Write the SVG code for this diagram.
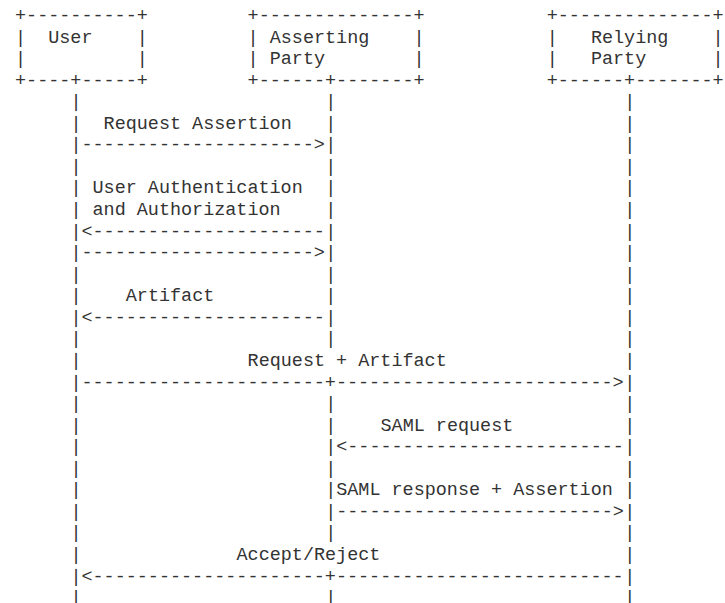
<svg xmlns="http://www.w3.org/2000/svg" width="725" height="603" viewBox="0 0 725 603">
<style>
text{font-family:"Liberation Mono","Courier New",monospace;font-size:18.46px;fill:#333;white-space:pre}
</style>
<rect width="725" height="603" fill="#fff"/>
<g id="node-user" xml:space="preserve">
<text x="15" y="21">+----------+</text>
<text x="15" y="42.56">|  User    |</text>
<text x="15" y="64.12">|          |</text>
<text x="15" y="85.68">+----+-----+</text>
</g>
<g id="node-asserting-party" xml:space="preserve">
<text x="247.6" y="21">+--------------+</text>
<text x="247.6" y="42.56">| Asserting    |</text>
<text x="247.6" y="64.12">| Party        |</text>
<text x="247.6" y="85.68">+------+-------+</text>
</g>
<g id="node-relying-party" xml:space="preserve">
<text x="546.65" y="21">+--------------+</text>
<text x="546.65" y="42.56">|   Relying    |</text>
<text x="546.65" y="64.12">|   Party      |</text>
<text x="546.65" y="85.68">+------+-------+</text>
</g>
<g id="connectors" xml:space="preserve">
<g id="lifeline-user">
<text x="70.38" y="107.24">|</text><text x="70.38" y="128.8">|</text><text x="70.38" y="150.36">|</text><text x="70.38" y="171.92">|</text>
<text x="70.38" y="193.48">|</text><text x="70.38" y="215.04">|</text><text x="70.38" y="236.6">|</text><text x="70.38" y="258.16">|</text>
<text x="70.38" y="279.72">|</text><text x="70.38" y="301.28">|</text><text x="70.38" y="322.84">|</text><text x="70.38" y="344.4">|</text>
<text x="70.38" y="365.96">|</text><text x="70.38" y="387.52">|</text><text x="70.38" y="409.08">|</text><text x="70.38" y="430.64">|</text>
<text x="70.38" y="452.2">|</text><text x="70.38" y="473.76">|</text><text x="70.38" y="495.32">|</text><text x="70.38" y="516.88">|</text>
<text x="70.38" y="538.44">|</text><text x="70.38" y="560">|</text><text x="70.38" y="581.56">|</text><text x="70.38" y="603.12">|</text>
</g>
<g id="lifeline-asserting-party">
<text x="325.13" y="107.24">|</text><text x="325.13" y="128.8">|</text><text x="325.13" y="150.36">|</text><text x="325.13" y="171.92">|</text>
<text x="325.13" y="193.48">|</text><text x="325.13" y="215.04">|</text><text x="325.13" y="236.6">|</text><text x="325.13" y="258.16">|</text>
<text x="325.13" y="279.72">|</text><text x="325.13" y="301.28">|</text><text x="325.13" y="322.84">|</text><text x="325.13" y="344.4">|</text>
<text x="325.13" y="409.08">|</text><text x="325.13" y="430.64">|</text>
<text x="325.13" y="452.2">|</text><text x="325.13" y="473.76">|</text><text x="325.13" y="495.32">|</text><text x="325.13" y="516.88">|</text>
<text x="325.13" y="538.44">|</text><text x="325.13" y="603.12">|</text>
</g>
<g id="lifeline-relying-party">
<text x="624.18" y="107.24">|</text><text x="624.18" y="128.8">|</text><text x="624.18" y="150.36">|</text><text x="624.18" y="171.92">|</text>
<text x="624.18" y="193.48">|</text><text x="624.18" y="215.04">|</text><text x="624.18" y="236.6">|</text><text x="624.18" y="258.16">|</text>
<text x="624.18" y="279.72">|</text><text x="624.18" y="301.28">|</text><text x="624.18" y="322.84">|</text><text x="624.18" y="344.4">|</text>
<text x="624.18" y="365.96">|</text><text x="624.18" y="387.52">|</text><text x="624.18" y="409.08">|</text><text x="624.18" y="430.64">|</text>
<text x="624.18" y="452.2">|</text><text x="624.18" y="473.76">|</text><text x="624.18" y="495.32">|</text><text x="624.18" y="516.88">|</text>
<text x="624.18" y="538.44">|</text><text x="624.18" y="560">|</text><text x="624.18" y="581.56">|</text><text x="624.18" y="603.12">|</text>
</g>
<g id="messages">
<text x="81.46" y="150.36">---------------------&gt;</text>
<text x="81.46" y="236.6">&lt;---------------------</text>
<text x="81.46" y="258.16">---------------------&gt;</text>
<text x="81.46" y="322.84">&lt;---------------------</text>
<text x="81.46" y="387.52">----------------------+-------------------------&gt;</text>
<text x="336.2" y="452.2">&lt;-------------------------</text>
<text x="336.2" y="516.88">-------------------------&gt;</text>
<text x="81.46" y="581.56">&lt;---------------------+--------------------------</text>
</g>
</g>
<g id="labels">
<text x="103.61" y="128.8">Request Assertion</text>
<text x="92.53" y="193.48">User Authentication</text>
<text x="92.53" y="215.04">and Authorization</text>
<text x="125.76" y="301.28">Artifact</text>
<text x="247.6" y="365.96">Request + Artifact</text>
<text x="380.51" y="430.64">SAML request</text>
<text x="336.2" y="495.32">SAML response + Assertion</text>
<text x="236.52" y="560">Accept/Reject</text>
</g>
</svg>
